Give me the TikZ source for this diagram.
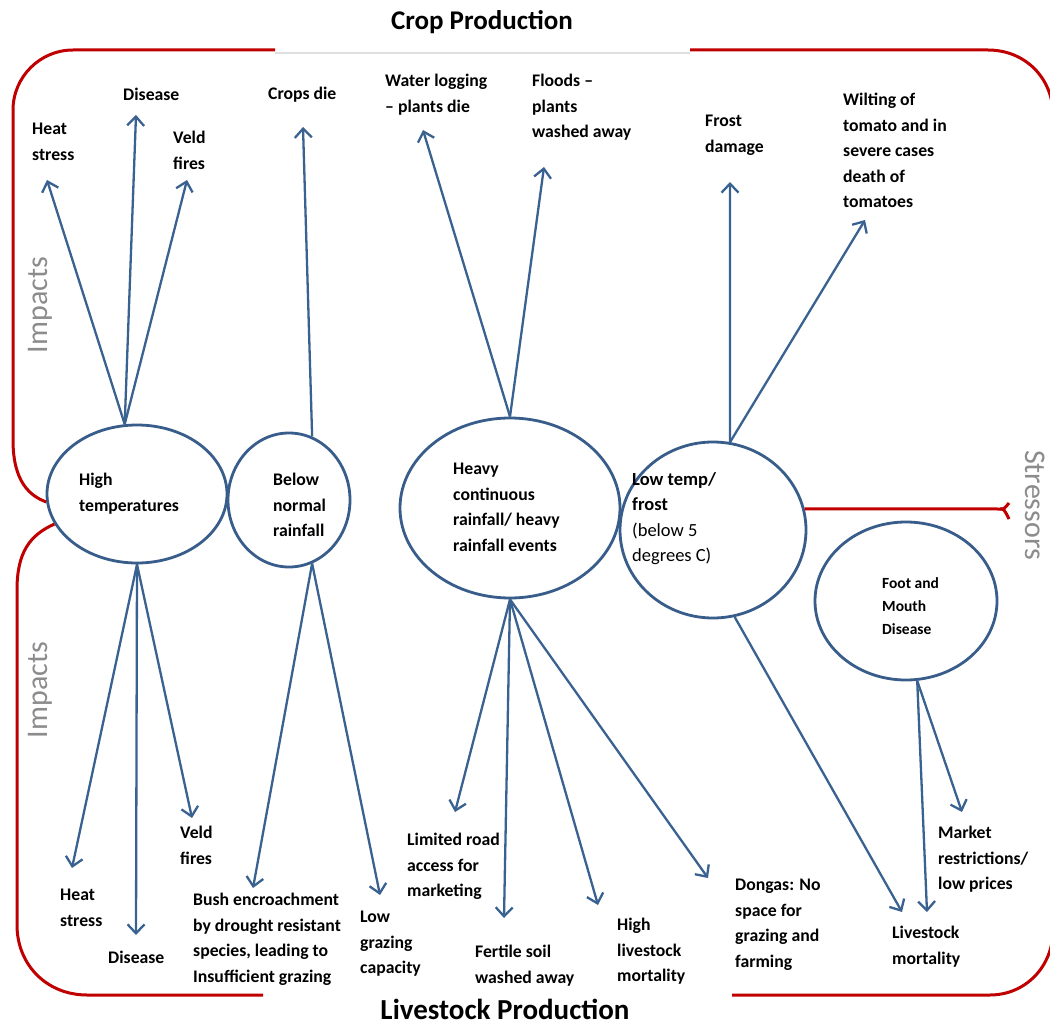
\documentclass[tikz,border=0pt]{standalone}
\usepackage{fontspec}
\setmainfont{Carlito}
\usetikzlibrary{shapes,arrows.meta}
\definecolor{ebl}{HTML}{385D8A}
\definecolor{abl}{HTML}{3A6291}
\definecolor{brd}{HTML}{C00000}
\definecolor{gtx}{HTML}{8C8C8C}

\begin{document}
\begin{tikzpicture}[x=1pt,y=-1pt,
  stressor/.style={draw=ebl,line width=2.8pt,ellipse,inner sep=0pt},
  impact/.style={anchor=north west,inner sep=0pt,align=left,font=\fontsize{17.7}{25.5}\selectfont\bfseries},
  effect/.style={draw=abl,line width=2.3pt,-{Straight Barb[length=9pt,width=17pt]}},
  brace/.style={draw=brd,line width=3pt},
  side/.style={font=\fontsize{30}{30}\selectfont,text=gtx}]
\path[fill=white,use as bounding box] (0,0) rectangle (1050,1027);

\node[font=\fontsize{27}{27}\selectfont\bfseries] (crop) at (482,22) {Crop Production};
\node[font=\fontsize{29}{29}\selectfont\bfseries] (live) at (505,1009) {Livestock Production};
\node[side,rotate=90] (imp1) at (40,305) {Impacts};
\node[side,rotate=90] (imp2) at (40,690) {Impacts};
\node[side,rotate=-90] (str) at (1035,505) {Stressors};

\node[stressor,minimum width=180pt,minimum height=138pt] (ht) at (137,494) {};
\node[stressor,minimum width=122pt,minimum height=134pt] (br) at (289,500) {};
\node[stressor,minimum width=220pt,minimum height=180pt] (hv) at (510,508) {};
\node[stressor,minimum width=186pt,minimum height=176pt] (lt) at (713,530) {};
\node[stressor,minimum width=182pt,minimum height=158pt] (fm) at (906,601) {};
\node[impact] (htt) at (79,473) {High\\temperatures};
\node[impact] (brt) at (273,473) {Below\\normal\\rainfall};
\node[impact] (hvt) at (453,463) {Heavy\\continuous\\rainfall/ heavy\\rainfall events};
\node[impact,font=\fontsize{18.5}{25.5}\selectfont\bfseries] (ltt) at (632,472) {Low temp/\\frost\\\mdseries(below 5\\\mdseries degrees C)};
\node[impact,font=\fontsize{15.5}{23}\selectfont\bfseries] (fmt) at (882,577) {Foot and\\Mouth\\Disease};

\draw[brace] (275,50) -- (73,50) .. controls (40,50) and (13,77) .. (13,110) -- (13,440) .. controls (13,482) and (30,496) .. (ht.185);
\draw[brace] (ht.200) .. controls (30,535) and (17,552) .. (17,590) -- (17,925) .. controls (17,965) and (47,995) .. (87,995) -- (263,995);
\draw[brace] (690,50) -- (988,50) .. controls (1025,50) and (1053,78) .. (1053,115);
\draw[brace] (732,995) -- (990,995) .. controls (1025,995) and (1053,967) .. (1053,930);
\draw[gray!25,line width=1.5pt] (275,53) -- (690,53);
\coordinate (fork) at (1000,509);
\draw[brace] (lt.13) -- (fork) .. controls (1004,509) .. (1009,503);
\draw[brace] (fork) .. controls (1004,509) .. (1009,519);

\node[impact] (hs1) at (32,123) {Heat\\stress};
\node[impact] (ds1) at (123,88) {Disease};
\node[impact] (vf1) at (173,131) {Veld\\fires};
\node[impact] (cd) at (268,87) {Crops die};
\node[impact] (wl) at (385,74) {Water logging\\– plants die};
\node[impact] (fl) at (532,74) {Floods –\\plants\\washed away};
\node[impact] (fd) at (705,115) {Frost\\damage};
\node[impact] (wt) at (843,93) {Wilting of\\tomato and in\\severe cases\\death of\\tomatoes};

\node[impact] (hs2) at (60,889) {Heat\\stress};
\node[impact] (ds2) at (108,951) {Disease};
\node[impact] (vf2) at (180,826) {Veld\\fires};
\node[impact] (be) at (193,893) {Bush encroachment\\by drought resistant\\species, leading to\\Insufficient grazing};
\node[impact] (lg) at (360,911) {Low\\grazing\\capacity};
\node[impact] (lr) at (407,833) {Limited road\\access for\\marketing};
\node[impact] (fs) at (475,945) {Fertile soil\\washed away};
\node[impact] (hl) at (617,918) {High\\livestock\\mortality};
\node[impact] (dg) at (735,879) {Dongas: No\\space for\\grazing and\\farming};
\node[impact] (lm) at (892,926) {Livestock\\mortality};
\node[impact] (mr) at (938,826) {Market\\restrictions/\\low prices};

\coordinate (hs1p) at (47,180);
\coordinate (ds1p) at (136,115);
\coordinate (vf1p) at (187,180);
\coordinate (cdp) at (303,127);
\coordinate (wlp) at (423,130);
\coordinate (flp) at (544,167);
\coordinate (fdp) at (730,182);
\coordinate (wtp) at (865,220);
\coordinate (hs2p) at (72,868);
\coordinate (ds2p) at (136,935);
\coordinate (vf2p) at (192,818);
\coordinate (bep) at (253,888);
\coordinate (lgp) at (380,895);
\coordinate (lrp) at (455,812);
\coordinate (fsp) at (504,918);
\coordinate (hlp) at (598,905);
\coordinate (dgp) at (708,878);
\coordinate (lm1p) at (902,912);
\coordinate (lm2p) at (927,912);
\coordinate (mrp) at (962,812);

\foreach \s/\t in {ht.100/hs1p,ht.100/ds1p,ht.100/vf1p,br.70/cdp,hv.north/wlp,hv.north/flp,lt.79/fdp,lt.79/wtp,
  ht.south/hs2p,ht.south/ds2p,ht.south/vf2p,br.-70/bep,br.-70/lgp,hv.south/lrp,hv.south/fsp,hv.south/hlp,hv.south/dgp,
  lt.-76/lm1p,fm.-82/lm2p,fm.-82/mrp}
  \draw[effect] (\s) -- (\t);
\end{tikzpicture}
\end{document}
